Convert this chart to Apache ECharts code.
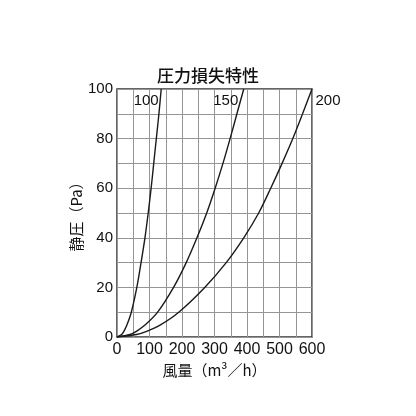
<!DOCTYPE html>
<html>
  <head>
    <meta charset="UTF-8" />
    <title>圧力損失特性</title>
    <style>
      html, body { margin: 0; padding: 0; background: #fff; }
      #chart { width: 416px; height: 416px; }
    </style>
    <script type="text/javascript" src="https://cdn.jsdelivr.net/npm/echarts@6/dist/echarts.min.js"></script>
  </head>
  <body>
    <div id="chart"></div>
    <script>
      // 静圧 (Pa) 共通の読み取り点
      const pressure = [0, 1, 2.5, 5, 10, 20, 30, 40, 50, 60, 70, 80, 90, 100];
      // 風量 (m3/h) 各ダクト径ごと
      const flow100 = [0, 14, 22, 31, 44, 61, 74, 86, 96, 105, 113, 121, 129, 136];
      const flow150 = [0, 40, 62, 88, 125, 174, 213, 246, 276, 302, 326, 348, 369, 390];
      const flow200 = [0, 60, 95, 135, 190, 270, 336, 390, 436, 473, 508, 541, 571, 600];
      const curveNames = ['100', '150', '200'];

      const chart = echarts.init(document.getElementById('chart'));
      const font = 'Liberation Sans, Arial, sans-serif';
      const cjk = 'Noto Sans CJK JP, sans-serif';

      function buildData(flows, name, side, dist) {
        return flows.map(function (q, i) {
          if (i < flows.length - 1) return [q, pressure[i]];
          return {
            value: [q, pressure[i]],
            label: {
              show: true,
              formatter: name,
              position: side,
              distance: dist,
              offset: [0, 12],
              color: '#111',
              fontSize: 15,
              fontFamily: font
            }
          };
        });
      }

      function curve(flows, name, side, dist) {
        return {
          name: name,
          type: 'line',
          data: buildData(flows, name, side, dist),
          smooth: 0.3,
          showSymbol: true,
          symbol: 'circle',
          symbolSize: 1,
          itemStyle: { color: 'rgba(0,0,0,0)' },
          lineStyle: { color: '#1a1a1a', width: 1.4 },
          z: 5
        };
      }

      chart.setOption({
        animation: false,
        title: {
          text: '圧力損失特性',
          left: 'center',
          top: 62,
          textStyle: { fontFamily: cjk, fontSize: 17, fontWeight: 500, color: '#111' }
        },
        grid: {
          left: 117, top: 89, width: 195, height: 248,
          show: true, borderColor: '#333', borderWidth: 1.5, backgroundColor: 'transparent'
        },
        xAxis: {
          type: 'value', min: 0, max: 600, interval: 100,
          name: '風量（m³／h）', nameLocation: 'middle', nameGap: 19,
          nameTextStyle: { fontFamily: cjk, fontSize: 15, color: '#111' },
          axisLine: { show: false }, axisTick: { show: false },
          axisLabel: { fontFamily: font, fontSize: 16, color: '#111', margin: 5 },
          splitLine: { lineStyle: { color: '#959595', width: 1 } },
          minorTick: { show: false, splitNumber: 2 },
          minorSplitLine: { show: true, lineStyle: { color: '#959595', width: 1 } }
        },
        yAxis: {
          type: 'value', min: 0, max: 100, interval: 20,
          name: '静圧（Pa）', nameLocation: 'middle', nameGap: 27,
          nameTextStyle: { fontFamily: cjk, fontSize: 15, color: '#111' },
          axisLine: { show: false }, axisTick: { show: false },
          axisLabel: { fontFamily: font, fontSize: 15, color: '#111', margin: 4 },
          splitLine: { lineStyle: { color: '#959595', width: 1 } },
          minorTick: { show: false, splitNumber: 2 },
          minorSplitLine: { show: true, lineStyle: { color: '#959595', width: 1 } }
        },
        series: [
          curve(flow100, curveNames[0], 'left', 2),
          curve(flow150, curveNames[1], 'left', 5),
          curve(flow200, curveNames[2], 'right', 3)
        ]
      });
    </script>
  </body>
</html>
